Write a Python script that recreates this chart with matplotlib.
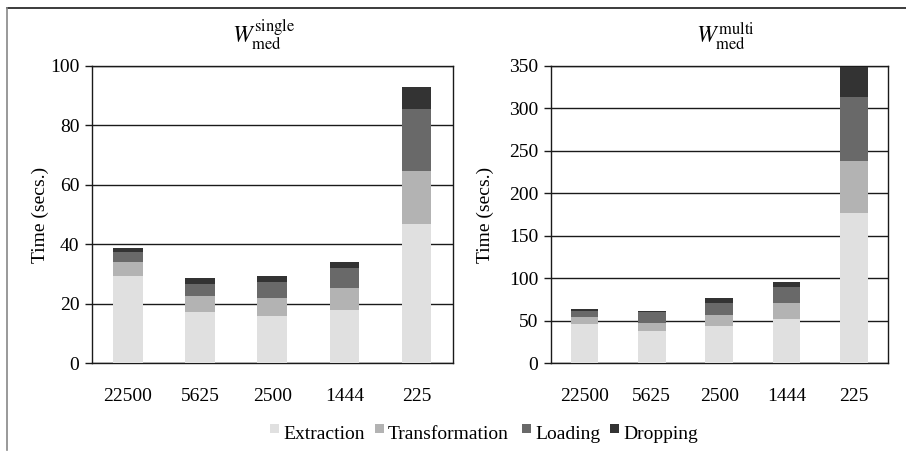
import matplotlib
matplotlib.use("Agg")
import matplotlib.pyplot as plt
from matplotlib.lines import Line2D
from matplotlib.patches import Rectangle
import numpy as np

plt.rcParams['font.family'] = ['Liberation Serif', 'DejaVu Serif']
plt.rcParams['mathtext.fontset'] = 'stix'

categories = ['22500', '5625', '2500', '1444', '225']
phases = ['Extraction', 'Transformation', 'Loading', 'Dropping']
colors = ['#e0e0e0', '#b3b3b3', '#696969', '#333333']

# single-workload timings (seconds)
single_extraction = [29.3, 17.3, 15.9, 18.0, 46.7]
single_transformation = [4.7, 5.4, 6.1, 7.3, 18.0]
single_loading = [3.4, 4.1, 5.4, 6.8, 20.7]
single_dropping = [1.3, 1.7, 1.9, 1.8, 7.4]

# multi-workload timings (seconds)
multi_extraction = [46.6, 37.6, 44.2, 51.7, 176.4]
multi_transformation = [7.5, 9.4, 12.2, 18.9, 61.5]
multi_loading = [7.8, 13.0, 14.5, 19.1, 75.7]
multi_dropping = [1.6, 1.2, 6.3, 6.3, 34.4]

single_ticks = [0, 20, 40, 60, 80, 100]
multi_ticks = [0, 50, 100, 150, 200, 250, 300, 350]

W, H = 906, 459
FS = 14

fig = plt.figure(figsize=(W / 100, H / 100), dpi=100)


def px(x, y):
    """pixel position (from top-left) to figure fraction"""
    return x / W, 1 - y / H


ax1 = fig.add_axes([92 / W, 1 - 363.3 / H, 360.5 / W, 297.6 / H])
ax2 = fig.add_axes([550.7 / W, 1 - 363.3 / H, 337 / W, 297.6 / H])


def draw(ax, series, ticks, label_x):
    x = np.arange(len(categories))
    bottom = np.zeros(len(categories))
    for vals, col in zip(series, colors):
        vals = np.array(vals)
        ax.bar(x, vals, width=0.41, bottom=bottom, color=col,
               edgecolor='none', zorder=3)
        bottom += vals
    ax.set_xlim(-0.5, len(categories) - 0.5)
    ax.set_ylim(ticks[0], ticks[-1])
    ax.set_yticks(ticks)
    ax.set_xticks(x)
    ax.set_xticklabels(categories)
    ax.yaxis.grid(True, color='#1a1a1a', linewidth=1.0, zorder=0)
    ax.set_axisbelow(True)
    for s in ax.spines.values():
        s.set_color('#1a1a1a')
        s.set_linewidth(1.0)
    ax.tick_params(axis='y', length=5, width=1, color='#1a1a1a',
                   labelsize=FS, pad=4)
    ax.tick_params(axis='x', length=0, labelsize=FS, pad=17.5)
    ax.set_ylabel('Time (secs.)', fontsize=FS)
    ax.yaxis.set_label_coords(label_x, 0.5)


draw(ax1, [single_extraction, single_transformation, single_loading,
           single_dropping], single_ticks, -0.119)
draw(ax2, [multi_extraction, multi_transformation, multi_loading,
           multi_dropping], multi_ticks, -0.168)

# panel titles
fig.text(*px(264, 43), r'$W_{\mathrm{med}}^{\mathrm{single}}$', fontsize=17,
         ha='center', va='baseline')
fig.text(*px(725, 43), r'$W_{\mathrm{med}}^{\mathrm{multi}}$', fontsize=17,
         ha='center', va='baseline')

# legend row under both panels
legend_sq_x = [270, 375, 522, 610]
for name, col, sx in zip(phases, colors, legend_sq_x):
    x0, y0 = px(sx, 433)
    fig.add_artist(Rectangle((x0, y0), 9 / W, 9 / H, transform=fig.transFigure,
                             facecolor=col, edgecolor='none'))
    fig.text(*px(sx + 13, 439), name, fontsize=FS, ha='left', va='baseline')

# partial frame around the figure
fig.add_artist(Line2D([7 / W, 1.0], [1 - 8.3 / H, 1 - 8.3 / H],
                      transform=fig.transFigure, color='#1a1a1a', lw=1.2))
fig.add_artist(Line2D([7.3 / W, 7.3 / W], [1 - 8.3 / H, 1 - 450 / H],
                      transform=fig.transFigure, color='#888888', lw=1.2))

fig.savefig('out.png', dpi=100)
